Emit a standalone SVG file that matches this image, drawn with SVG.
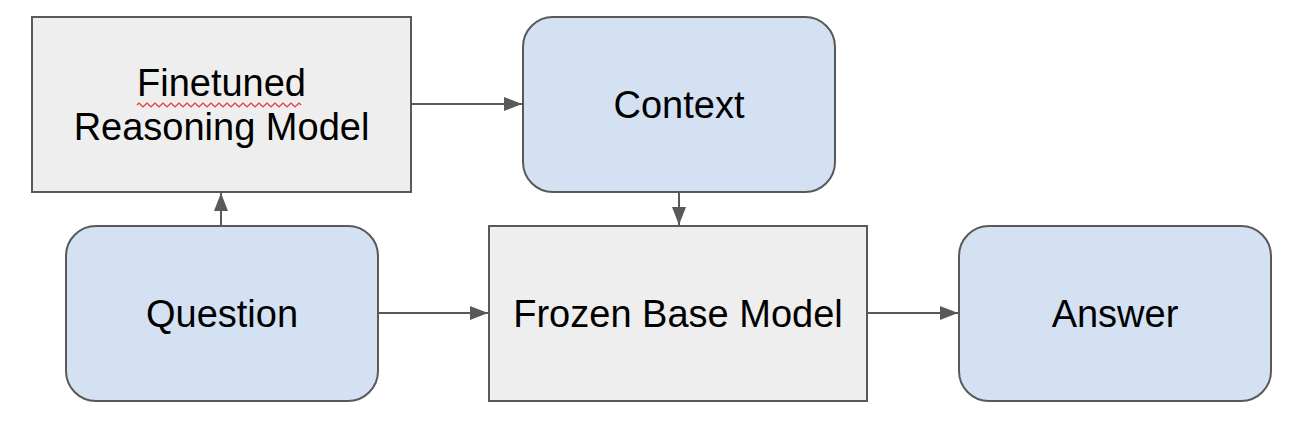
<svg xmlns="http://www.w3.org/2000/svg" width="1308" height="434" viewBox="0 0 1308 434">
<style>
.gray{fill:#eeeeee;stroke:#595959;stroke-width:2}
.blue{fill:#d4e1f2;stroke:#595959;stroke-width:2}
.lbl{font-family:"Liberation Sans",Arial,sans-serif;font-size:38px;fill:#000000;text-anchor:middle}
.conn{stroke:#595959;stroke-width:2;fill:none;marker-end:url(#ah)}
</style>
<defs>
<marker id="ah" markerUnits="userSpaceOnUse" markerWidth="18" markerHeight="14" refX="18" refY="7" orient="auto">
<path d="M0,0 L18,7 L0,14 Z" fill="#595959"/>
</marker>
</defs>
<rect width="1308" height="434" fill="#ffffff"/>
<g id="connectors">
<path class="conn" d="M411,104 L522,104"/>
<path class="conn" d="M221,226 L221,193"/>
<path class="conn" d="M679,192 L679,225"/>
<path class="conn" d="M378,313 L488,313"/>
<path class="conn" d="M867,313 L958,313"/>
</g>
<g id="finetuned">
<rect class="gray" x="32" y="17" width="379" height="175"/>
<text class="lbl" x="221.5" y="96">Finetuned</text>
<text class="lbl" x="221.5" y="140">Reasoning Model</text>
<path d="M137,105 l2,-2 l2,2 l2,2 l2,-2 l2,-2 l2,2 l2,2 l2,-2 l2,-2 l2,2 l2,2 l2,-2 l2,-2 l2,2 l2,2 l2,-2 l2,-2 l2,2 l2,2 l2,-2 l2,-2 l2,2 l2,2 l2,-2 l2,-2 l2,2 l2,2 l2,-2 l2,-2 l2,2 l2,2 l2,-2 l2,-2 l2,2 l2,2 l2,-2 l2,-2 l2,2 l2,2 l2,-2 l2,-2 l2,2 l2,2 l2,-2 l2,-2 l2,2 l2,2 l2,-2 l2,-2 l2,2 l2,2 l2,-2 l2,-2 l2,2 l2,2 l2,-2 l2,-2 l2,2 l2,2 l2,-2 l2,-2 l2,2 l2,2 l2,-2 l2,-2 l2,2 l2,2 l2,-2 l2,-2 l2,2 l2,2 l2,-2 l2,-2 l2,2 l2,2 l2,-2 l2,-2 l2,2 l2,2 l2,-2 l2,-2 l2,2" fill="none" stroke="#e53935" stroke-width="1.2"/>
</g>
<g id="context">
<rect class="blue" x="523" y="17" width="312" height="175" rx="30" ry="30"/>
<text class="lbl" x="679" y="118">Context</text>
</g>
<g id="question">
<rect class="blue" x="66" y="226" width="312" height="175" rx="30" ry="30"/>
<text class="lbl" x="222" y="327">Question</text>
</g>
<g id="frozen">
<rect class="gray" x="489" y="226" width="378" height="175"/>
<text class="lbl" x="678" y="327">Frozen Base Model</text>
</g>
<g id="answer">
<rect class="blue" x="959" y="226" width="312" height="175" rx="30" ry="30"/>
<text class="lbl" x="1115" y="327">Answer</text>
</g>
</svg>
